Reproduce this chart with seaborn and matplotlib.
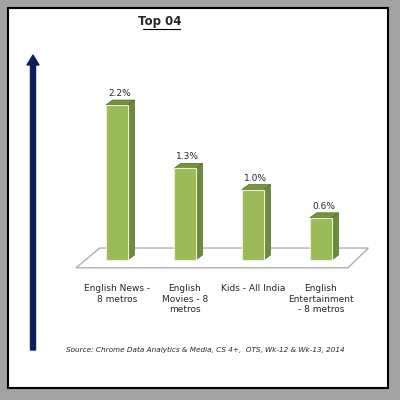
import matplotlib
matplotlib.use("Agg")
import matplotlib.pyplot as plt
import seaborn as sns
import pandas as pd
from matplotlib.patches import Rectangle, Polygon, FancyArrow

categories = ["English News -\n8 metros", "English\nMovies - 8\nmetros", "Kids - All India", "English\nEntertainment\n- 8 metros"]
values = [2.2, 1.3, 1.0, 0.6]
value_labels = ["2.2%", "1.3%", "1.0%", "0.6%"]

sns.set_style("white")
plt.rcParams['font.family'] = ['DejaVu Sans']
fig = plt.figure(figsize=(4, 4), dpi=100)
fig.patch.set_facecolor("#a3a3a3")
fig.patches.append(Rectangle((8/400, 12/400), 380/400, 380/400, transform=fig.transFigure,
                             facecolor="white", edgecolor="black", lw=1.5, zorder=-10))
ax = fig.add_axes([0.19, 0.3235, 0.714, 0.555])
ax.set_zorder(5)
ax.set_facecolor("none")
df = pd.DataFrame({"cat": categories, "val": values})
sns.barplot(data=df, x="cat", y="val", color="#9bbb59", width=0.32, ax=ax,
            edgecolor="#e8f0d8", linewidth=0.8, zorder=3, saturation=1)
bars = [p for p in ax.patches if isinstance(p, Rectangle)]
ax.set_xlim(-0.6, 3.6)
ax.set_ylim(-0.15, 3.0)
# floor
ax.add_patch(Polygon([(-0.6, -0.11), (3.4, -0.11), (3.7, 0.17), (-0.25, 0.17)],
                     closed=True, facecolor="white", edgecolor="#b0b0b0", lw=1, zorder=1, clip_on=False))
dx, dy = 0.1, 0.07
for p, lab in zip(bars, value_labels):
    x0, w, h = p.get_x(), p.get_width(), p.get_height()
    x1 = x0 + w
    ax.add_patch(Polygon([(x1, 0), (x1 + dx, dy), (x1 + dx, h + dy), (x1, h)],
                         facecolor="#6e8b3d", edgecolor="#4f6a2a", lw=0.5, zorder=2))
    ax.add_patch(Polygon([(x0, h), (x0 + dx, h + dy), (x1 + dx, h + dy), (x1, h)],
                         facecolor="#77933c", edgecolor="#4f6a2a", lw=0.5, zorder=2))
    ax.text(x0 + w / 2 + 0.04, h + dy + 0.03, lab, ha="center", va="bottom", fontsize=6.5)
ax.set_xlabel("")
ax.set_ylabel("")
ax.set_yticks([])
ax.tick_params(axis="x", length=0, pad=10, labelsize=6.5)
for s in ax.spines.values():
    s.set_visible(False)
# arrow
fig.patches.append(FancyArrow(33/400, 1 - 350/400, 0, (350 - 55)/400, width=5/400,
                              head_width=12/400, head_length=10/400, length_includes_head=True,
                              transform=fig.transFigure, color="#0c1f5c"))
fig.text(160/400, 1 - 22/400, "Top 04", fontsize=8.5, fontweight="bold", ha="center", va="center")
fig.add_artist(plt.Line2D([143/400, 180/400], [1 - 29/400, 1 - 29/400], color="black", lw=0.8))
fig.text(205/400, 1 - 350/400, "Source: Chrome Data Analytics & Media, CS 4+,  OTS, Wk-12 & Wk-13, 2014",
         fontsize=5.2, style="italic", ha="center", va="center")
fig.savefig("out.png", dpi=100, facecolor=fig.get_facecolor())
